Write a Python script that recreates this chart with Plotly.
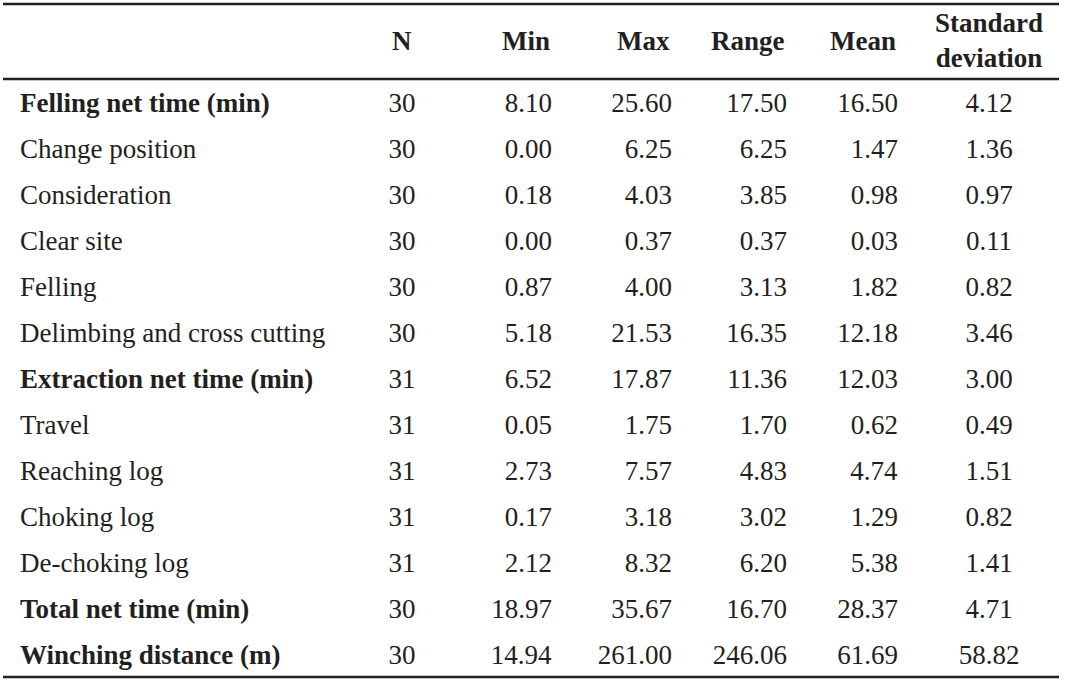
import plotly.graph_objects as go

labels = ["Felling net time (min)", "Change position", "Consideration", "Clear site",
          "Felling", "Delimbing and cross cutting", "Extraction net time (min)",
          "Travel", "Reaching log", "Choking log", "De-choking log",
          "Total net time (min)", "Winching distance (m)"]
bold_rows = ["Felling net time (min)", "Extraction net time (min)",
             "Total net time (min)", "Winching distance (m)"]
n_vals = [30, 30, 30, 30, 30, 30, 31, 31, 31, 31, 31, 30, 30]
min_vals = [8.10, 0.00, 0.18, 0.00, 0.87, 5.18, 6.52, 0.05, 2.73, 0.17, 2.12, 18.97, 14.94]
max_vals = [25.60, 6.25, 4.03, 0.37, 4.00, 21.53, 17.87, 1.75, 7.57, 3.18, 8.32, 35.67, 261.00]
range_vals = [17.50, 6.25, 3.85, 0.37, 3.13, 16.35, 11.36, 1.70, 4.83, 3.02, 6.20, 16.70, 246.06]
mean_vals = [16.50, 1.47, 0.98, 0.03, 1.82, 12.18, 12.03, 0.62, 4.74, 1.29, 5.38, 28.37, 61.69]
sd_vals = [4.12, 1.36, 0.97, 0.11, 0.82, 3.46, 3.00, 0.49, 1.51, 0.82, 1.41, 4.71, 58.82]
col_titles = ["", "N", "Min", "Max", "Range", "Mean", "Standard<br>deviation"]

W, H = 1076, 690
FONT = "Liberation Serif, Times New Roman, serif"
INK = "#231f20"

# column edges in pixels (layout only)
edges = [12, 360, 444, 560, 680, 795, 906, 1072]
widths = [edges[i + 1] - edges[i] for i in range(len(edges) - 1)]
table_top = 64   # an (invisible) 15px header sits above the first row
row_h = 45.75

# every cell goes through the same rich-text path so rows line up
label_text = [f"<b>{s}</b>" if s in bold_rows else f"<span>{s}</span>" for s in labels]
span = lambda vals: [f"<span>{v}</span>" for v in vals]
fmt = lambda vals: span([f"{v:.2f}" for v in vals])

fig = go.Figure()
fig.add_trace(go.Table(
    domain=dict(x=[edges[0] / W, edges[-1] / W], y=[0, 1 - table_top / H]),
    columnwidth=widths,
    header=dict(values=[], height=0, fill=dict(color="white"),
                line=dict(color="rgba(0,0,0,0)", width=0)),
    cells=dict(
        values=[label_text, span(n_vals), fmt(min_vals), fmt(max_vals),
                fmt(range_vals), fmt(mean_vals), fmt(sd_vals)],
        align=["left", "center", "right", "right", "right", "right", "center"],
        height=row_h,
        fill=dict(color="white"),
        line=dict(color="rgba(0,0,0,0)", width=0),
        font=dict(family=FONT, size=27, color=INK),
    ),
))

# column titles in the header band
for i, t in enumerate(col_titles):
    if not t:
        continue
    if i in (1, 6):
        x, anchor = (edges[i] + edges[i + 1]) / 2, "center"
    else:
        x, anchor = edges[i + 1] - 8, "right"
    fig.add_annotation(x=x / W, y=1 - 41 / H, xref="paper", yref="paper",
                       text=f"<b>{t}</b>", showarrow=False, xanchor=anchor,
                       yanchor="middle", align="center",
                       font=dict(family=FONT, size=27, color=INK))

# horizontal rules
for y in (4, 79, 677):
    fig.add_shape(type="line", xref="paper", yref="paper",
                  x0=3 / W, x1=1059 / W, y0=1 - y / H, y1=1 - y / H,
                  line=dict(color=INK, width=2.5))

fig.update_layout(
    width=W, height=H,
    margin=dict(l=0, r=0, t=0, b=0),
    paper_bgcolor="white",
    plot_bgcolor="white",
)

# drop the browser's default page margin so the figure sits at the window corner
fig.write_html("out.html", config={"displayModeBar": False},
               post_script="document.body.style.margin='0';")
